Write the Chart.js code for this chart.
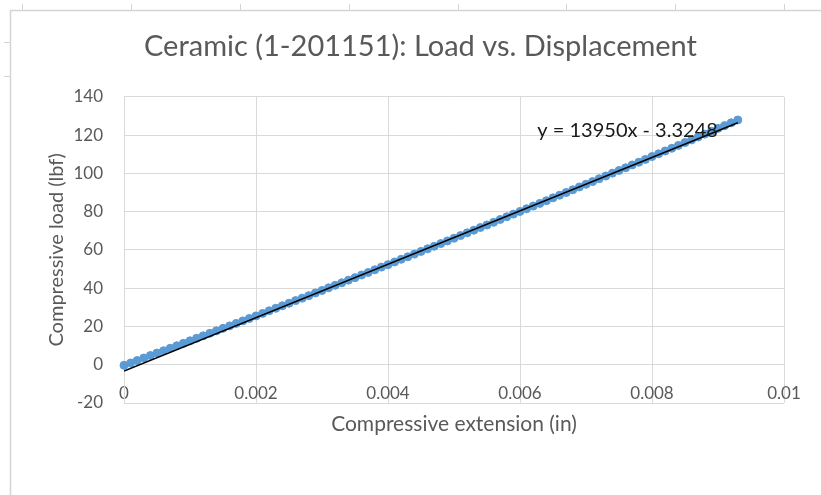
<!DOCTYPE html>
<html>
<head>
<meta charset="utf-8">
<script src="https://cdn.jsdelivr.net/npm/chart.js@4.4.1/dist/chart.umd.min.js"></script>
<style>
  html, body { margin: 0; padding: 0; background: #fff; }
</style>
</head>
<body>
<canvas id="chart" width="821" height="495"></canvas>
<script>
// Compressive extension (in), one reading every 0.0001 in
const extension = [
  0.0000, 0.0001, 0.0002, 0.0003, 0.0004, 0.0005, 0.0006, 0.0007, 0.0008, 0.0009,
  0.0010, 0.0011, 0.0012, 0.0013, 0.0014, 0.0015, 0.0016, 0.0017, 0.0018, 0.0019,
  0.0020, 0.0021, 0.0022, 0.0023, 0.0024, 0.0025, 0.0026, 0.0027, 0.0028, 0.0029,
  0.0030, 0.0031, 0.0032, 0.0033, 0.0034, 0.0035, 0.0036, 0.0037, 0.0038, 0.0039,
  0.0040, 0.0041, 0.0042, 0.0043, 0.0044, 0.0045, 0.0046, 0.0047, 0.0048, 0.0049,
  0.0050, 0.0051, 0.0052, 0.0053, 0.0054, 0.0055, 0.0056, 0.0057, 0.0058, 0.0059,
  0.0060, 0.0061, 0.0062, 0.0063, 0.0064, 0.0065, 0.0066, 0.0067, 0.0068, 0.0069,
  0.0070, 0.0071, 0.0072, 0.0073, 0.0074, 0.0075, 0.0076, 0.0077, 0.0078, 0.0079,
  0.0080, 0.0081, 0.0082, 0.0083, 0.0084, 0.0085, 0.0086, 0.0087, 0.0088, 0.0089,
  0.0090, 0.0091, 0.0092, 0.0093,
];

// Compressive load (lbf)
const load = [
  -0.3, 0.9, 2.2, 3.5, 4.8, 6.1, 7.3, 8.6, 9.9, 11.2,
  12.5, 13.8, 15.1, 16.4, 17.7, 19.0, 20.3, 21.6, 22.9, 24.2,
  25.5, 26.8, 28.2, 29.5, 30.8, 32.1, 33.5, 34.8, 36.1, 37.5,
  38.8, 40.2, 41.5, 42.8, 44.2, 45.5, 46.9, 48.2, 49.6, 51.0,
  52.3, 53.7, 55.1, 56.4, 57.8, 59.2, 60.6, 61.9, 63.3, 64.7,
  66.1, 67.5, 68.9, 70.3, 71.7, 73.0, 74.4, 75.9, 77.3, 78.7,
  80.1, 81.5, 82.9, 84.3, 85.7, 87.2, 88.6, 90.0, 91.4, 92.9,
  94.3, 95.7, 97.2, 98.6, 100.1, 101.5, 102.9, 104.4, 105.8, 107.3,
  108.8, 110.2, 111.7, 113.1, 114.6, 116.1, 117.5, 119.0, 120.5, 122.0,
  123.5, 124.9, 126.4, 127.9,
];

// Linear trendline shown on the chart
const slope = 13950;
const intercept = -3.3248;

// Axis ranges
const xMin = 0, xMax = 0.01, xStep = 0.002;
const yMin = -20, yMax = 140, yStep = 20;

const gridColor = '#d9d9d9';
const textGray = '#595959';
const family = 'Lato';

const points = extension.map((x, i) => ({ x, y: load[i] }));
const xFirst = extension[0];
const xLast = extension[extension.length - 1];
const trend = [
  { x: xFirst, y: slope * xFirst + intercept },
  { x: xLast, y: slope * xLast + intercept },
];

const equationLabel = `y = ${slope}x - ${Math.abs(intercept)}`;

// Spreadsheet frame behind the chart
const frame = {
  id: 'frame',
  beforeDraw(chart) {
    const { ctx, width, height } = chart;
    ctx.save();
    ctx.fillStyle = '#fff';
    ctx.fillRect(0, 0, width, height);
    ctx.strokeStyle = '#d4d4d4';
    ctx.lineWidth = 1.5;
    ctx.beginPath();
    ctx.moveTo(10, 10.5);
    ctx.lineTo(width, 10.5);
    ctx.moveTo(10.5, 10);
    ctx.lineTo(10.5, height);
    ctx.stroke();
    ctx.lineWidth = 1;
    ctx.beginPath();
    [22, 131, 240, 349, 458, 566, 675, 784].forEach((cx) => {
      ctx.moveTo(cx + 0.5, 4);
      ctx.lineTo(cx + 0.5, 10);
    });
    [42, 76].forEach((ry) => {
      ctx.moveTo(4, ry + 0.5);
      ctx.lineTo(10, ry + 0.5);
    });
    ctx.stroke();
    ctx.restore();
  },
};

// Trendline equation, placed near the end of the line
const equation = {
  id: 'equation',
  afterDatasetsDraw(chart) {
    const { ctx, scales } = chart;
    const px = scales.x.getPixelForValue(0.00763);
    const py = scales.y.getPixelForValue(122.5);
    ctx.save();
    ctx.font = `20px ${family}`;
    ctx.fillStyle = '#1a1a1a';
    ctx.textAlign = 'center';
    ctx.textBaseline = 'middle';
    ctx.fillText(equationLabel, px, py);
    ctx.restore();
  },
};

new Chart(document.getElementById('chart'), {
  type: 'scatter',
  data: {
    datasets: [
      {
        label: 'Trendline',
        data: trend,
        showLine: true,
        borderColor: '#000',
        borderWidth: 1.5,
        pointRadius: 0,
        order: 0,
      },
      {
        label: 'Load',
        data: points,
        pointRadius: 4,
        pointBorderWidth: 1,
        pointBackgroundColor: '#5b9bd5',
        pointBorderColor: '#5b9bd5',
        clip: false,
        order: 1,
      },
    ],
  },
  options: {
    responsive: false,
    animation: false,
    layout: { padding: { left: 20, right: 0, top: 0, bottom: 92 } },
    plugins: {
      legend: { display: false },
      tooltip: { enabled: false },
      title: {
        display: true,
        text: 'Ceramic (1-201151): Load vs. Displacement',
        color: textGray,
        font: { family, size: 29, weight: 'normal' },
        padding: { top: 29, bottom: 33 },
      },
    },
    scales: {
      x: {
        type: 'linear',
        position: { y: 0 },
        min: xMin,
        max: xMax,
        ticks: {
          stepSize: xStep,
          padding: 19,
          maxRotation: 0,
          color: textGray,
          font: { family, size: 17 },
          callback: (value) => String(+value.toFixed(4)),
        },
        grid: { color: gridColor, drawTicks: false },
        border: { color: gridColor },
        title: {
          display: true,
          text: 'Compressive extension (in)',
          color: textGray,
          font: { family, size: 21 },
          padding: { top: 0, bottom: 21 },
        },
        afterFit: (scale) => { scale.height = 93; },
      },
      y: {
        type: 'linear',
        min: yMin,
        max: yMax,
        ticks: {
          stepSize: yStep,
          padding: 21,
          color: textGray,
          font: { family, size: 17 },
        },
        grid: { color: gridColor, drawTicks: false },
        border: { color: gridColor },
        title: {
          display: true,
          text: 'Compressive load (lbf)',
          color: textGray,
          font: { family, size: 20 },
          padding: { top: 25, bottom: 0 },
        },
        afterFit: (scale) => { scale.width = 104; },
      },
      yPad: {
        type: 'linear',
        position: 'right',
        ticks: { display: false },
        grid: { display: false },
        border: { display: false },
        afterFit: (scale) => { scale.width = 37; },
      },
    },
  },
  plugins: [frame, equation],
});
</script>
</body>
</html>
